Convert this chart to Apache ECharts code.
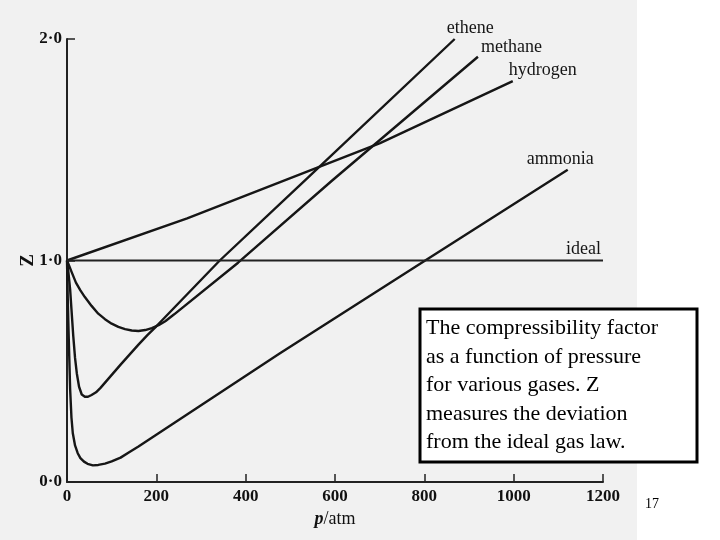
<!DOCTYPE html>
<html>
<head>
<meta charset="utf-8">
<script src="https://cdn.jsdelivr.net/npm/echarts@6/dist/echarts.min.js"></script>
<style>
html,body{margin:0;padding:0;background:#fff}
#main{width:720px;height:540px}
</style>
</head>
<body>
<div id="main"></div>
<script>
var xTicks = ['0', '200', '400', '600', '800', '1000', '1200'];
var yTicks = ['0·0', '1·0', '2·0'];

// p/atm and Z
var ethP = [0, 3, 7, 10, 14, 18, 22, 27, 33, 40, 47, 55, 65, 75, 90, 105, 120, 140, 160, 180, 200, 342, 537, 868];
var ethZ = [1.0, 0.95, 0.87, 0.78, 0.66, 0.56, 0.49, 0.43, 0.395, 0.385, 0.385, 0.393, 0.405, 0.425, 0.46, 0.495, 0.53, 0.575, 0.62, 0.663, 0.703, 1.0, 1.37, 2.0];
var metP = [0, 5, 10, 20, 30, 40, 55, 70, 85, 100, 115, 130, 145, 160, 175, 190, 205, 220, 240, 383, 593, 920];
var metZ = [1.0, 0.975, 0.95, 0.90, 0.865, 0.835, 0.795, 0.76, 0.735, 0.715, 0.70, 0.69, 0.684, 0.682, 0.686, 0.695, 0.708, 0.726, 0.757, 0.99, 1.36, 1.92];
var hydP = [0, 269, 701, 998];
var hydZ = [1.0, 1.19, 1.53, 1.81];
var ammP = [0, 1, 2, 3.5, 5, 7, 10, 13, 18, 24, 30, 38, 46, 58, 70, 85, 100, 120, 140, 160, 476, 802, 1121];
var ammZ = [1.0, 0.9, 0.8, 0.68, 0.57, 0.42, 0.29, 0.22, 0.165, 0.13, 0.108, 0.092, 0.082, 0.075, 0.077, 0.083, 0.093, 0.11, 0.135, 0.16, 0.58, 1.0, 1.41];
var idealP = [0, 1200];
var idealZ = [1.0, 1.0];

var captionLines = [
  'The compressibility factor',
  'as a function of pressure',
  'for various gases. Z',
  'measures the deviation',
  'from the ideal gas law.'
];

function pairs(p, z) {
  return p.map(function(v, i) { return [v, z[i]]; });
}

var serif = '"Liberation Serif", "DejaVu Serif", serif';
var ink = '#161616';

function gas(name, p, z, offset) {
  return {
    name: name,
    type: 'line',
    data: pairs(p, z),
    showSymbol: false,
    lineStyle: { color: ink, width: 2.4, join: 'round' },
    endLabel: {
      show: true,
      formatter: name,
      distance: 0,
      offset: offset,
      color: ink,
      fontFamily: serif,
      fontSize: 18
    }
  };
}

var chart = echarts.init(document.getElementById('main'));
var option = {
  animation: false,
  backgroundColor: '#fff',
  grid: { left: 67, right: 117, top: 39, bottom: 58 },
  xAxis: {
    type: 'value',
    min: 0, max: 1200, interval: 200,
    splitLine: { show: false },
    axisLine: { lineStyle: { color: '#222', width: 2 } },
    axisTick: { inside: true, length: 8, lineStyle: { color: '#222', width: 1.5 } },
    axisLabel: {
      color: '#111', fontFamily: serif, fontSize: 17, fontWeight: 'bold', margin: 6,
      formatter: function(v, i) { return xTicks[i]; }
    },
    name: '{i|p}/atm',
    nameLocation: 'middle',
    nameGap: 26,
    nameTextStyle: {
      color: '#111', fontFamily: serif, fontSize: 18,
      rich: { i: { fontStyle: 'italic', fontWeight: 'bold', fontFamily: serif, fontSize: 18, color: '#111' } }
    }
  },
  yAxis: {
    type: 'value',
    min: 0, max: 2, interval: 1,
    splitLine: { show: false },
    axisLine: { show: true, lineStyle: { color: '#222', width: 2 } },
    axisTick: { show: true, inside: true, length: 8, lineStyle: { color: '#222', width: 1.5 } },
    axisLabel: {
      color: '#111', fontFamily: serif, fontSize: 17, fontWeight: 'bold', margin: 5,
      formatter: function(v, i) { return yTicks[i]; }
    },
    name: 'Z',
    nameLocation: 'middle',
    nameRotate: 90,
    nameGap: 29,
    nameMoveOverlap: false,
    nameTextStyle: { color: '#111', fontFamily: serif, fontSize: 19, fontWeight: 'bold' }
  },
  series: [
    gas('ethene', ethP, ethZ, [-8, -11]),
    gas('methane', metP, metZ, [3, -9]),
    gas('hydrogen', hydP, hydZ, [-4, -11]),
    gas('ammonia', ammP, ammZ, [-41, -10]),
    {
      name: 'ideal',
      type: 'line',
      data: pairs(idealP, idealZ),
      showSymbol: false,
      lineStyle: { color: '#222', width: 2 },
      endLabel: {
        show: true, formatter: 'ideal', distance: 0, offset: [-37, -11],
        color: ink, fontFamily: serif, fontSize: 18
      }
    }
  ],
  graphic: [
    { type: 'rect', z: -10, silent: true, shape: { x: 0, y: 0, width: 637, height: 540 }, style: { fill: '#f1f1f1' } },
    {
      type: 'rect', z: 100,
      shape: { x: 420, y: 309, width: 277, height: 153 },
      style: { fill: '#fff', stroke: '#000', lineWidth: 3 }
    },
    {
      type: 'text', z: 101, left: 426, top: 314,
      style: {
        text: captionLines.join('\n'),
        fill: '#000', font: '22px ' + serif, lineHeight: 28.5
      }
    },
    {
      type: 'text', z: 101, left: 645, top: 497,
      style: { text: '17', fill: '#000', font: '14px ' + serif }
    }
  ]
};
chart.setOption(option);
window.addEventListener('resize', function() { chart.resize(); });
</script>
</body>
</html>
